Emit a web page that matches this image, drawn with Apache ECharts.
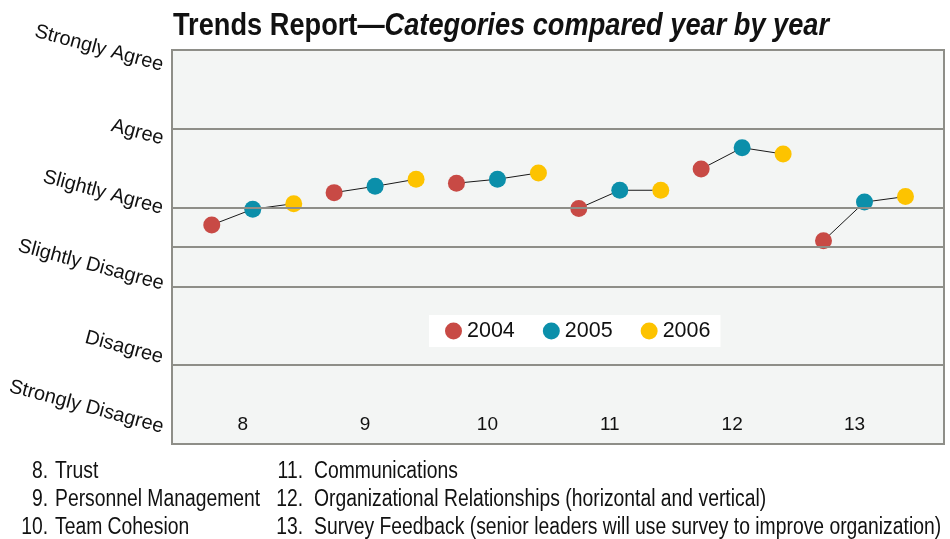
<!DOCTYPE html>
<html lang="en" style="height: 100%">
<head>
  <meta charset="utf-8">
</head>
<body style="height: 100%; margin: 0; background: #fff">
  <div id="container" style="width: 950px; height: 539px"></div>

  <script type="text/javascript" src="https://cdn.jsdelivr.net/npm/echarts@6/dist/echarts.min.js"></script>

  <script type="text/javascript">
    // categories (survey item numbers) and their names
    var categories = [8, 9, 10, 11, 12, 13];
    var categoryNames = [
      'Trust',
      'Personnel Management',
      'Team Cohesion',
      'Communications',
      'Organizational Relationships (horizontal and vertical)',
      'Survey Feedback (senior leaders will use survey to improve organization)'
    ];
    // rating scale, 1 = Strongly Disagree ... 6 = Strongly Agree
    var scaleLabels = ['Strongly Disagree', 'Disagree', 'Slightly Disagree', 'Slightly Agree', 'Agree', 'Strongly Agree'];
    var gridLineValues = [2, 3, 3.5, 4, 5];

    var years = ['2004', '2005', '2006'];
    var values2004 = [3.78, 4.19, 4.31, 3.99, 4.49, 3.58];
    var values2005 = [3.98, 4.27, 4.36, 4.22, 4.76, 4.07];
    var values2006 = [4.05, 4.36, 4.44, 4.22, 4.68, 4.14];

    var yearValues = [values2004, values2005, values2006];
    var yearColors = ['#c84a45', '#0b8faa', '#fdc300'];
    var yearOffset = [-0.335, 0, 0.335];
    var FONT = '"Liberation Sans", Arial, sans-serif';
    var SQUEEZE = 0.84; // the original type is a condensed grotesque

    var dom = document.getElementById('container');
    var myChart = echarts.init(dom, null, { renderer: 'canvas' });

    // y label nudges (labels are spread a bit tighter than the grid)
    var labelShift = [-15, -6, -1, 2, 11, 16];
    var rich = {};
    scaleLabels.forEach(function (name, i) {
      var d = labelShift[i];
      var r = Math.round(0.26 * (16 - d));
      rich['l' + i] = {
        fontFamily: FONT,
        fontSize: 20,
        color: '#111',
        padding: d > 0 ? [2 * d, r, 0, 0] : [0, r, -2 * d, 0]
      };
    });

    var series = [];
    // connector line for each category
    categories.forEach(function (c, ci) {
      series.push({
        type: 'line',
        silent: true,
        symbol: 'none',
        lineStyle: { color: '#1a1a1a', width: 1 },
        z: 2,
        data: years.map(function (y, yi) {
          return [c + yearOffset[yi], yearValues[yi][ci]];
        })
      });
    });
    years.forEach(function (y, yi) {
      series.push({
        name: y,
        type: 'scatter',
        symbol: 'circle',
        symbolSize: 17,
        z: 3,
        itemStyle: { color: yearColors[yi], opacity: 1 },
        data: categories.map(function (c, ci) {
          return [c + yearOffset[yi], yearValues[yi][ci]];
        })
      });
    });
    // horizontal rules
    series.push({
      type: 'line',
      silent: true,
      data: [],
      z: 1,
      markLine: {
        silent: true,
        symbol: 'none',
        label: { show: false },
        lineStyle: { color: '#8e8e88', width: 2, type: 'solid' },
        data: gridLineValues.map(function (v) { return { yAxis: v }; })
      }
    });

    var graphics = [{
      type: 'text',
      x: 173,
      y: 10,
      scaleX: 0.85,
      style: {
        text: '{a|Trends Report\u2014}{b|Categories compared year by year}',
        rich: {
          a: { fontFamily: FONT, fontSize: 32, fontWeight: 'bold', fill: '#111' },
          b: { fontFamily: FONT, fontSize: 32, fontWeight: 'bold', fontStyle: 'italic', fill: '#111' }
        },
        verticalAlign: 'top'
      }
    }];
    var footY = [472, 500, 528];
    categories.forEach(function (c, i) {
      var col = i < 3 ? 0 : 1;
      var row = i % 3;
      graphics.push({
        type: 'text',
        x: col ? 303 : 48,
        y: footY[row],
        scaleX: SQUEEZE,
        style: {
          text: c + '.',
          font: '23px ' + FONT,
          fill: '#111',
          align: 'right',
          verticalAlign: 'middle'
        }
      });
      graphics.push({
        type: 'text',
        x: col ? 314 : 55,
        y: footY[row],
        scaleX: SQUEEZE,
        style: {
          text: categoryNames[i],
          font: '23px ' + FONT,
          fill: '#111',
          align: 'left',
          verticalAlign: 'middle'
        }
      });
    });

    var option = {
      backgroundColor: '#fff',
      animation: false,
      legend: {
        data: years,
        left: 429,
        top: 315,
        backgroundColor: '#fff',
        padding: [5, 10, 5, 16],
        itemGap: 28,
        itemWidth: 17,
        itemHeight: 17,
        icon: 'circle',
        textStyle: { fontFamily: FONT, fontSize: 21.5, color: '#111' }
      },
      grid: {
        left: 172,
        right: 6,
        top: 50,
        bottom: 95,
        show: true,
        backgroundColor: '#f3f5f4',
        borderColor: '#8e8e88',
        borderWidth: 2,
        containLabel: false
      },
      xAxis: {
        type: 'value',
        min: 7.34,
        max: 13.65,
        axisLine: { show: false },
        axisTick: { show: false },
        splitLine: { show: false },
        axisLabel: {
          inside: true,
          margin: 10,
          showMinLabel: false,
          showMaxLabel: false,
          padding: [0, 20, 0, 0],
          fontFamily: FONT,
          fontSize: 19,
          color: '#111',
          formatter: function (v) {
            return categories.indexOf(v) >= 0 ? String(v) : '';
          }
        }
      },
      yAxis: {
        type: 'value',
        min: 1,
        max: 6,
        interval: 1,
        axisLine: { show: false },
        axisTick: { show: false },
        splitLine: { show: false },
        axisLabel: {
          margin: 5,
          rotate: -15,
          rich: rich,
          formatter: function (v) {
            var i = Math.round(v) - 1;
            return '{l' + i + '|' + scaleLabels[i] + '}';
          }
        }
      },
      graphic: graphics,
      series: series
    };

    myChart.setOption(option);
    window.addEventListener('resize', myChart.resize);
  </script>
</body>
</html>
